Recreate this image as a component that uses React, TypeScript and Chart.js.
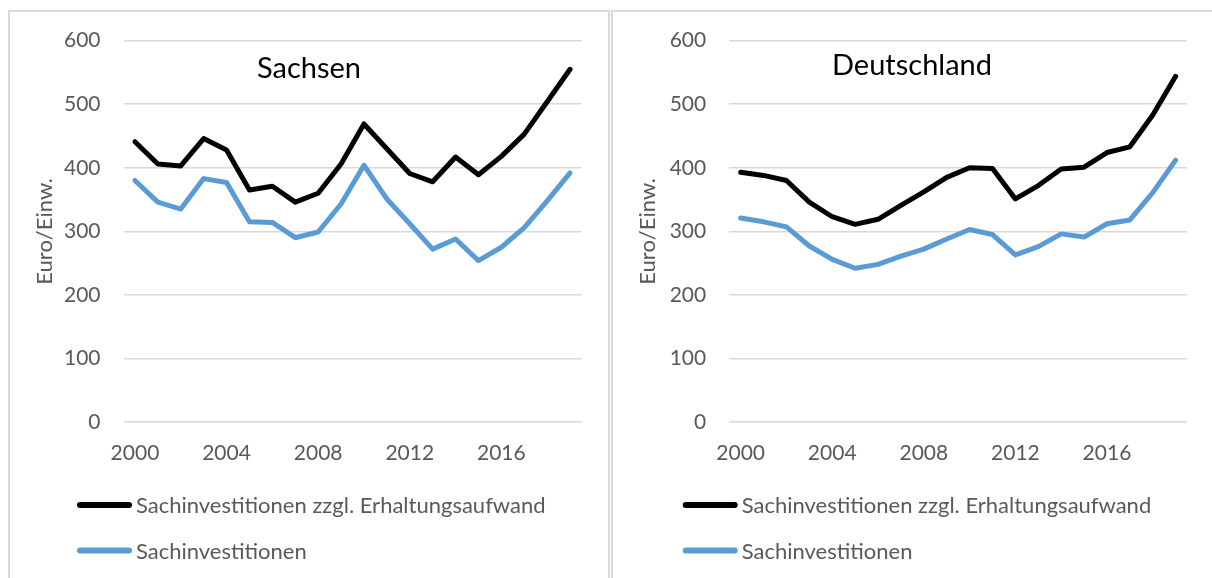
import React, { useEffect, useRef } from 'react';
import { Chart, registerables } from 'chart.js';

Chart.register(...registerables);

const years = ['2000', '2001', '2002', '2003', '2004', '2005', '2006', '2007', '2008', '2009',
  '2010', '2011', '2012', '2013', '2014', '2015', '2016', '2017', '2018', '2019'];

const sachsenTotal = [441, 406, 403, 446, 428, 365, 371, 346, 360, 406, 469, 430, 391, 378, 417, 389, 418, 453, 504, 555];
const sachsenInvest = [380, 346, 335, 383, 377, 315, 314, 290, 299, 343, 404, 351, 312, 272, 288, 254, 275, 306, 348, 392];

const deTotal = [393, 388, 380, 346, 323, 311, 319, 341, 362, 385, 400, 399, 351, 372, 398, 401, 424, 433, 483, 544];
const deInvest = [321, 315, 307, 277, 256, 242, 248, 261, 272, 288, 303, 295, 263, 276, 296, 291, 312, 318, 361, 412];

const seriesLabels = ['Sachinvestitionen zzgl. Erhaltungsaufwand', 'Sachinvestitionen'];
const seriesColors = ['#000000', '#5b9bd5'];
const yAxisTitle = 'Euro/Einw.';
const yMin = 0;
const yMax = 600;
const yStep = 100;
const xLabelEvery = 4;

const TEXT = '#595959';
const GRID = '#d9d9d9';
const FONT = 'Lato, "Open Sans", sans-serif';
const CW = 598;
const CH = 570;

type PanelProps = {
  title: string;
  total: number[];
  invest: number[];
  yWidth: number;
  padRight: number;
  titleBaseline: number;
  legendDx: number;
};

function Panel(props: PanelProps) {
  const ref = useRef<HTMLCanvasElement | null>(null);
  useEffect(() => {
    const canvas = ref.current;
    if (!canvas) return;
    const decor = {
      id: 'decor',
      afterDraw(chart: any) {
        const ctx = chart.ctx as CanvasRenderingContext2D;
        ctx.save();
        ctx.font = `29px ${FONT}`;
        ctx.fillStyle = '#000000';
        ctx.textAlign = 'center';
        ctx.textBaseline = 'alphabetic';
        ctx.fillText(props.title, chart.width / 2, props.titleBaseline);
        const rows = [493, 538.5];
        chart.data.datasets.forEach((ds: any, i: number) => {
          const y = rows[i];
          const x0 = 67 + props.legendDx;
          ctx.strokeStyle = ds.borderColor;
          ctx.lineWidth = 6;
          ctx.lineCap = 'round';
          ctx.beginPath();
          ctx.moveTo(x0 + 3, y);
          ctx.lineTo(x0 + 52, y);
          ctx.stroke();
          ctx.font = `22px ${FONT}`;
          ctx.fillStyle = TEXT;
          ctx.textAlign = 'left';
          ctx.textBaseline = 'middle';
          ctx.fillText(ds.label, x0 + 59, y + 1);
        });
        ctx.restore();
      },
    };
    const chart = new Chart(canvas, {
      type: 'line',
      data: {
        labels: years,
        datasets: [
          {
            label: seriesLabels[0],
            data: props.total,
            borderColor: seriesColors[0],
            backgroundColor: seriesColors[0],
            borderWidth: 5,
            pointRadius: 0,
            tension: 0,
            borderJoinStyle: 'round',
            borderCapStyle: 'round',
          },
          {
            label: seriesLabels[1],
            data: props.invest,
            borderColor: seriesColors[1],
            backgroundColor: seriesColors[1],
            borderWidth: 5,
            pointRadius: 0,
            tension: 0,
            borderJoinStyle: 'round',
            borderCapStyle: 'round',
          },
        ],
      },
      options: {
        responsive: false,
        animation: false,
        events: [],
        layout: { padding: { left: 0, top: 28.7, right: props.padRight, bottom: CH - 410 - 60 } },
        plugins: {
          legend: { display: false },
          title: { display: false },
          tooltip: { enabled: false },
        },
        scales: {
          x: {
            type: 'category',
            offset: true,
            grid: { display: true, drawOnChartArea: false, drawTicks: true, tickLength: 19, tickColor: 'rgba(0,0,0,0)' },
            border: { display: false },
            ticks: {
              autoSkip: false,
              maxRotation: 0,
              minRotation: 0,
              padding: 0,
              color: TEXT,
              font: { family: FONT, size: 21 },
              callback: (_v: any, i: number) => (i % xLabelEvery === 0 ? years[i] : ''),
            },
            afterFit: (s: any) => {
              s.height = 60;
            },
          },
          y: {
            min: yMin,
            max: yMax,
            grid: { color: GRID, lineWidth: 1.5, drawTicks: true, tickLength: 23, tickColor: 'rgba(0,0,0,0)' },
            border: { display: false },
            ticks: {
              stepSize: yStep,
              padding: 0,
              color: TEXT,
              font: { family: FONT, size: 21 },
            },
            title: {
              display: true,
              text: yAxisTitle,
              color: TEXT,
              font: { family: FONT, size: 22 },
              padding: { top: 22, bottom: 0 },
            },
            afterFit: (s: any) => {
              s.width = props.yWidth;
            },
          },
        },
      },
      plugins: [decor],
    } as any);
    return () => chart.destroy();
  }, []);
  return <canvas ref={ref} width={CW} height={CH} style={{ display: 'block', width: CW, height: CH }} />;
}

export default function App() {
  useEffect(() => {
    document.documentElement.style.overflow = 'hidden';
    document.body.style.margin = '0';
  }, []);
  const edge = `2px solid ${GRID}`;
  const panelStyle: React.CSSProperties = {
    position: 'absolute',
    top: 10,
    height: 580,
    borderTop: edge,
    borderLeft: edge,
    borderBottom: edge,
    boxSizing: 'border-box',
    background: '#ffffff',
    overflow: 'hidden',
  };
  return (
    <div style={{ position: 'relative', width: 1212, height: 578, overflow: 'hidden', background: '#ffffff' }}>
      <div style={{ ...panelStyle, left: 8, width: 602, borderRight: edge }}>
        <Panel title="Sachsen" total={sachsenTotal} invest={sachsenInvest} yWidth={113.5} padRight={26.5} titleBaseline={66} legendDx={0} />
      </div>
      <div style={{ ...panelStyle, left: 611, width: 601 }}>
        <Panel title="Deutschland" total={deTotal} invest={deInvest} yWidth={116.2} padRight={23.9} titleBaseline={63} legendDx={2.7} />
      </div>
    </div>
  );
}
